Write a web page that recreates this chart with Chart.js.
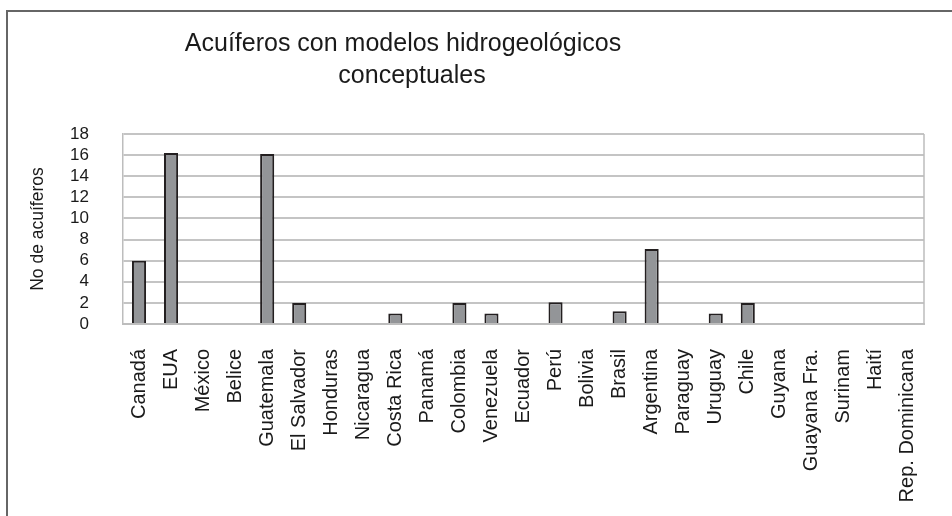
<!DOCTYPE html>
<html>
<head>
<meta charset="utf-8">
<script src="https://cdn.jsdelivr.net/npm/chart.js@4"></script>
<style>
  html, body { margin: 0; padding: 0; background: #fff; }
  #wrap { width: 952px; height: 516px; position: relative; }
</style>
</head>
<body>
<div id="wrap"><canvas id="grafico"></canvas></div>
<script>
// Países (eje X)
const paises = ['Canadá', 'EUA', 'México', 'Belice', 'Guatemala', 'El Salvador', 'Honduras',
  'Nicaragua', 'Costa Rica', 'Panamá', 'Colombia', 'Venezuela', 'Ecuador', 'Perú', 'Bolivia',
  'Brasil', 'Argentina', 'Paraguay', 'Uruguay', 'Chile', 'Guyana', 'Guayana Fra.', 'Surinam',
  'Haití', 'Rep. Dominicana'];

// No de acuíferos con modelo conceptual
const acuiferos = [6, 16.2, 0, 0, 16.1, 2, 0, 0, 1, 0, 2, 1, 0, 2.05, 0, 1.2, 7.1, 0, 1, 2,
  0, 0, 0, 0, 0];

const tituloLineas = ['Acuíferos con modelos hidrogeológicos', 'conceptuales'];
const tituloEje = 'No de acuíferos';

const fuente = 'Arial, "Liberation Sans", sans-serif';

// Marco exterior, borde derecho del área y título (no centrado en la figura original)
const marcoYTitulo = {
  id: 'marcoYTitulo',
  afterDraw(chart) {
    const ctx = chart.ctx;
    const area = chart.chartArea;
    ctx.save();
    ctx.strokeStyle = '#bdbdbd';
    ctx.lineWidth = 1.5;
    ctx.beginPath();
    ctx.moveTo(area.right, area.top);
    ctx.lineTo(area.right, area.bottom);
    ctx.stroke();

    ctx.strokeStyle = '#666666';
    ctx.lineWidth = 2;
    ctx.beginPath();
    ctx.moveTo(7, 516);
    ctx.lineTo(7, 11);
    ctx.lineTo(952, 11);
    ctx.stroke();

    ctx.fillStyle = '#1a1a1a';
    ctx.font = '25px ' + fuente;
    ctx.textAlign = 'center';
    ctx.textBaseline = 'alphabetic';
    ctx.fillText(tituloLineas[0], 403, 51);
    ctx.fillText(tituloLineas[1], 412, 83);
    ctx.restore();
  }
};

new Chart(document.getElementById('grafico'), {
  type: 'bar',
  data: {
    labels: paises,
    datasets: [{
      data: acuiferos,
      backgroundColor: '#939598',
      borderColor: '#231f20',
      borderWidth: 2,
      categoryPercentage: 1,
      barPercentage: 0.44
    }]
  },
  options: {
    responsive: true,
    maintainAspectRatio: false,
    animation: false,
    devicePixelRatio: 1,
    layout: { padding: { top: 134, right: 28, left: 0, bottom: 0 } },
    plugins: {
      legend: { display: false },
      tooltip: { enabled: false }
    },
    scales: {
      x: {
        grid: { display: false, drawTicks: false },
        border: { display: true, color: '#bdbdbd', width: 2 },
        ticks: {
          minRotation: 90,
          maxRotation: 90,
          autoSkip: false,
          padding: 25,
          color: '#1a1a1a',
          font: { family: fuente, size: 20 }
        },
        afterFit(scale) {
          scale.height = 516 - 324;
          scale.paddingLeft = 0;
          scale.paddingRight = 0;
        }
      },
      y: {
        min: 0,
        max: 18,
        grid: { color: '#c4c4c4', lineWidth: 2, drawTicks: false },
        border: { display: true, color: '#bdbdbd', width: 1.5 },
        ticks: {
          stepSize: 2,
          autoSkip: false,
          padding: 34,
          color: '#1a1a1a',
          font: { family: fuente, size: 17 }
        },
        title: {
          display: true,
          text: tituloEje,
          color: '#1a1a1a',
          font: { family: fuente, size: 17.5 },
          padding: { top: 28, bottom: 0 }
        },
        afterFit(scale) { scale.width = 123; }
      }
    }
  },
  plugins: [marcoYTitulo]
});
</script>
</body>
</html>
